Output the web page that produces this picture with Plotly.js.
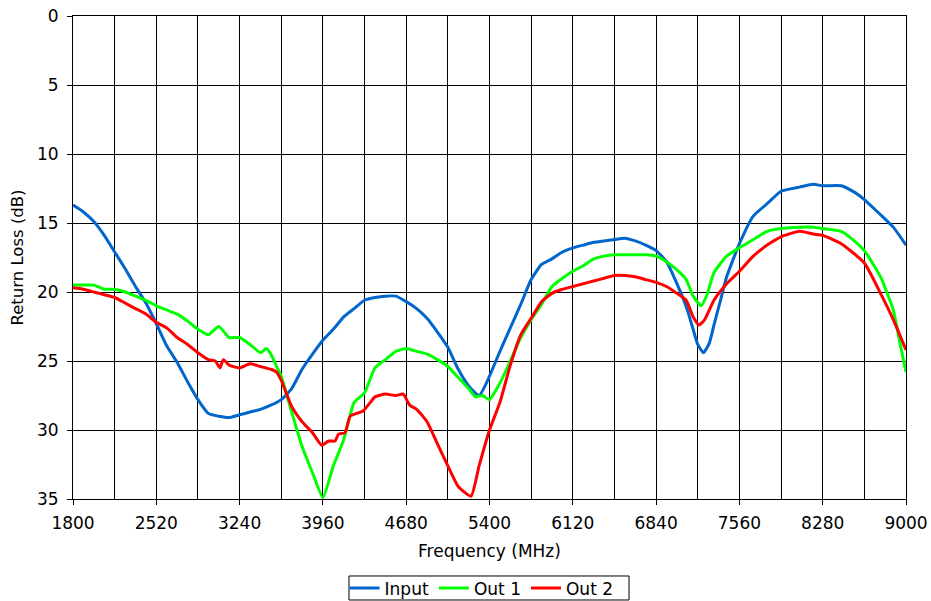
<!DOCTYPE html>
<html>
<head>
<meta charset="utf-8">
<script src="https://cdn.plot.ly/plotly-3.0.1.min.js"></script>
<style>html,body{margin:0;padding:0;background:#fff;}#chart{width:931px;height:601px;}</style>
</head>
<body>
<div id="chart"></div>
<script>
// Frequency (MHz) and return loss (dB)
const inputFreq = [1800,1890,1980,2070,2160,2250,2340,2430,2520,2610,2700,2790,2880,2970,3060,3150,3240,3330,3420,3510,3600,3690,3780,3870,3960,4050,4140,4230,4320,4410,4500,4590,4680,4770,4860,4950,5040,5130,5220,5310,5400,5490,5580,5670,5760,5850,5940,6030,6120,6210,6300,6390,6480,6570,6660,6750,6840,6930,7020,7110,7160,7200,7250,7300,7340,7400,7450,7560,7680,7800,7920,8080,8200,8280,8440,8560,8640,8780,8890,9000];
const inputRL   = [13.7,14.2,14.9,15.9,17.1,18.3,19.6,20.8,22.3,23.9,25.1,26.5,27.8,28.8,29.0,29.1,28.9,28.7,28.5,28.2,27.8,27.0,25.6,24.5,23.5,22.7,21.8,21.2,20.6,20.4,20.3,20.3,20.7,21.2,21.9,22.9,24.0,25.6,26.8,27.5,26.1,24.3,22.6,20.9,19.1,18.0,17.6,17.1,16.8,16.6,16.4,16.3,16.2,16.1,16.3,16.6,17.0,17.8,19.4,21.3,22.7,23.8,24.4,23.7,22.4,20.5,18.9,16.5,14.5,13.6,12.7,12.4,12.2,12.3,12.3,12.8,13.3,14.4,15.3,16.6];

const out1Freq = [1800,1890,1980,2070,2160,2250,2340,2430,2520,2610,2700,2790,2880,2970,3060,3150,3240,3330,3420,3470,3510,3560,3600,3690,3780,3870,3960,4050,4140,4230,4320,4410,4500,4590,4680,4770,4860,4950,5040,5130,5220,5280,5340,5400,5490,5580,5670,5760,5850,5940,6030,6120,6210,6300,6390,6480,6570,6660,6750,6840,6930,7020,7100,7160,7230,7280,7340,7450,7560,7680,7800,7920,8080,8200,8280,8440,8540,8640,8780,8890,8950,9000];
const out1RL   = [19.5,19.5,19.5,19.8,19.8,20.0,20.3,20.6,21.0,21.3,21.6,22.1,22.7,23.1,22.5,23.3,23.3,23.8,24.4,24.1,24.5,25.4,26.1,28.7,31.2,33.1,34.9,32.6,30.7,28.0,27.3,25.5,24.9,24.3,24.1,24.3,24.5,24.9,25.4,26.2,27.0,27.6,27.5,27.8,26.6,25.0,23.3,22.0,20.9,19.6,19.0,18.5,18.1,17.6,17.4,17.3,17.3,17.3,17.3,17.4,17.8,18.4,19.1,20.3,21.0,20.2,18.6,17.4,16.8,16.2,15.6,15.4,15.3,15.3,15.4,15.6,16.2,17.0,18.9,21.3,23.8,25.8];

const out2Freq = [1800,1890,1980,2070,2160,2250,2340,2430,2520,2610,2700,2790,2880,2970,3030,3070,3100,3150,3240,3330,3420,3510,3560,3600,3690,3780,3870,3950,4010,4065,4095,4150,4195,4250,4310,4370,4410,4500,4590,4655,4710,4770,4860,4950,5040,5130,5240,5310,5400,5490,5580,5670,5760,5850,5940,6030,6120,6210,6300,6390,6480,6570,6660,6750,6840,6930,7020,7100,7160,7210,7260,7340,7450,7560,7680,7800,7920,8080,8200,8280,8440,8640,8780,8890,9000];
const out2RL   = [19.7,19.8,20.0,20.2,20.4,20.8,21.2,21.6,22.2,22.6,23.3,23.8,24.4,24.9,25.0,25.5,24.9,25.3,25.5,25.2,25.4,25.6,25.8,26.4,28.3,29.4,30.2,31.1,30.8,30.8,30.3,30.2,29.0,28.8,28.6,28.0,27.6,27.4,27.5,27.4,28.2,28.5,29.4,31.0,32.6,34.1,34.8,32.6,30.0,28.0,25.3,23.1,21.9,20.7,20.1,19.8,19.6,19.4,19.2,19.0,18.8,18.8,18.9,19.1,19.3,19.6,20.1,20.6,21.8,22.4,22.0,20.6,19.4,18.5,17.4,16.6,16.0,15.6,15.8,15.9,16.5,17.9,20.1,22.0,24.2];

const seriesNames = ['Input', 'Out 1', 'Out 2'];
const xTickVals = [1800,2520,3240,3960,4680,5400,6120,6840,7560,8280,9000];
const yTickVals = [0,5,10,15,20,25,30,35];

const FONT = 'DejaVu Sans, Verdana, sans-serif';
const FS = 17;
const lineW = 3;
const traces = [
  {x: inputFreq, y: inputRL, name: seriesNames[0], mode: 'lines', line: {color: '#0066CC', width: lineW, shape: 'spline', smoothing: 0.5}},
  {x: out1Freq, y: out1RL, name: seriesNames[1], mode: 'lines', line: {color: '#00FF00', width: lineW, shape: 'spline', smoothing: 0.5}},
  {x: out2Freq, y: out2RL, name: seriesNames[2], mode: 'lines', line: {color: '#FF0000', width: lineW, shape: 'spline', smoothing: 0.5}}
];

const layout = {
  width: 931, height: 601,
  margin: {l: 73, r: 25, t: 16, b: 102, autoexpand: false},
  paper_bgcolor: '#ffffff', plot_bgcolor: '#ffffff',
  font: {family: FONT, size: FS, color: '#000'},
  showlegend: true,
  legend: {
    orientation: 'h', x: 0.4905, xanchor: 'center', y: -0.185, yanchor: 'middle',
    borderwidth: 0, itemwidth: 30, bgcolor: 'rgba(0,0,0,0)',
    font: {family: FONT, size: FS, color: '#000'},
    tracegroupgap: 0, traceorder: 'normal'
  },
  shapes: [
    {type: 'rect', xref: 'paper', yref: 'paper', x0: 0.3313, x1: 0.6675, y0: -0.1594, y1: -0.2091,
     line: {color: '#000', width: 1}, fillcolor: 'rgba(0,0,0,0)', layer: 'above'}
  ],
  xaxis: {
    range: [1800, 9000], tickvals: xTickVals, ticktext: xTickVals.map(String),
    ticks: 'outside', ticklen: 5, tickcolor: '#000', tickwidth: 1, ticklabelstandoff: 4,
    showgrid: true, gridcolor: '#000', gridwidth: 1,
    minor: {dtick: 360, tick0: 1800, showgrid: true, gridcolor: '#000', gridwidth: 1, ticks: ''},
    showline: true, mirror: true, linecolor: '#000', linewidth: 1,
    zeroline: false, tickfont: {family: FONT, size: FS},
    title: {text: 'Frequency (MHz)', font: {family: FONT, size: FS}, standoff: 12}
  },
  yaxis: {
    range: [35, 0], tickvals: yTickVals, ticktext: yTickVals.map(String),
    ticks: 'outside', ticklen: 5, tickcolor: '#000', tickwidth: 1, ticklabelstandoff: 5,
    showgrid: true, gridcolor: '#000', gridwidth: 1,
    showline: true, mirror: true, linecolor: '#000', linewidth: 1,
    zeroline: false, tickfont: {family: FONT, size: FS},
    title: {text: 'Return Loss (dB)', font: {family: FONT, size: 16.5}, standoff: 9}
  }
};

Plotly.newPlot('chart', traces, layout, {displayModeBar: false, staticPlot: true});
</script>
</body>
</html>
